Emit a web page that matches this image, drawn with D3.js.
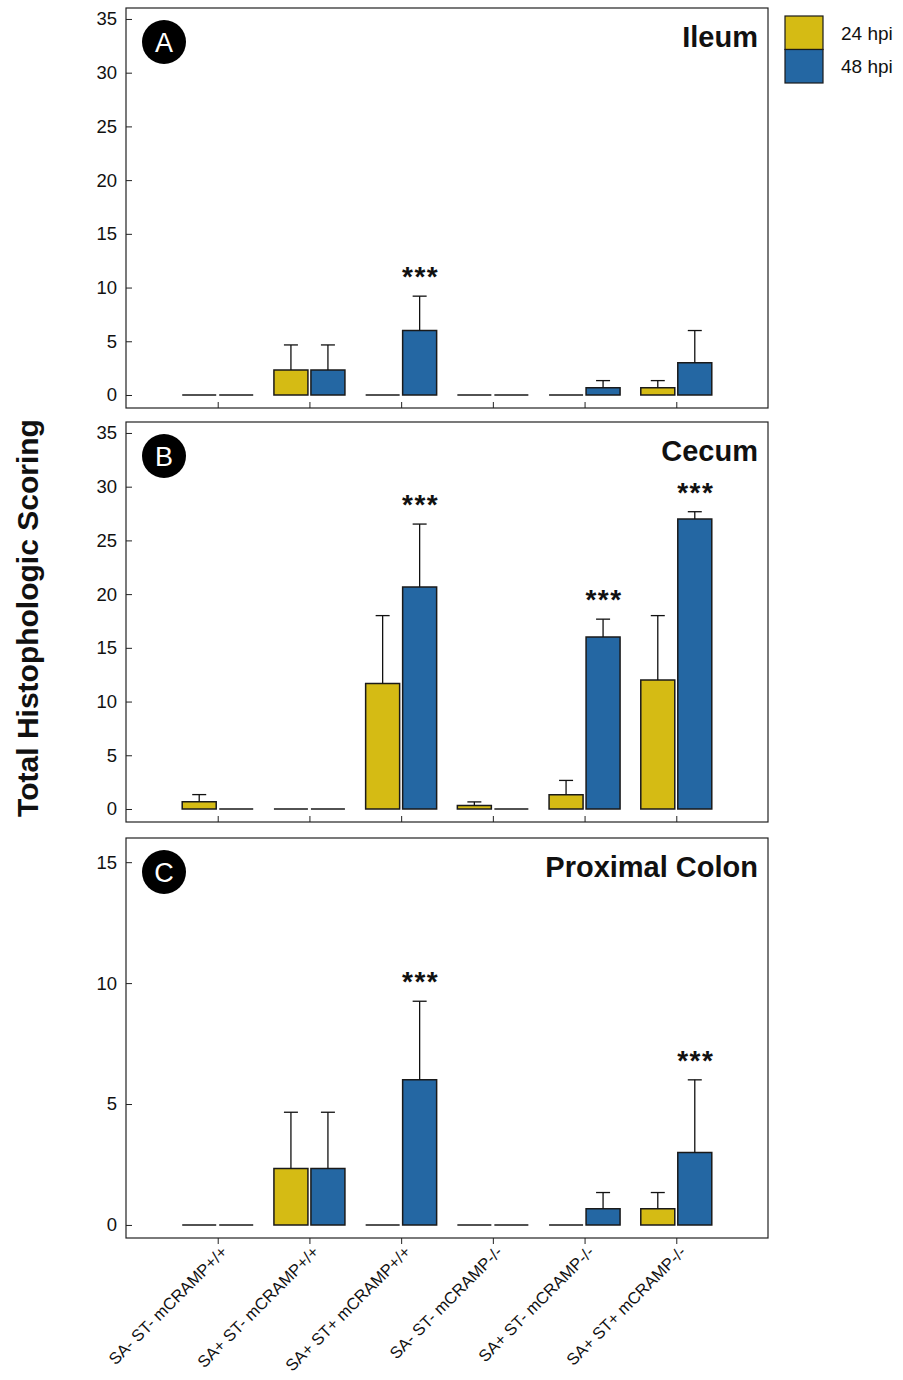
<!DOCTYPE html>
<html>
<head>
<meta charset="utf-8">
<script src="https://cdn.jsdelivr.net/npm/d3@7"></script>
<style>
  body { margin: 0; background: #fff; }
  svg { font-family: "Liberation Sans", Arial, sans-serif; }
</style>
</head>
<body>
<div class="chart"></div>
<script>
// groups on the x axis
const categories = ['SA- ST- mCRAMP+/+', 'SA+ ST- mCRAMP+/+', 'SA+ ST+ mCRAMP+/+',
                    'SA- ST- mCRAMP-/-', 'SA+ ST- mCRAMP-/-', 'SA+ ST+ mCRAMP-/-'];
const seriesNames = ['24 hpi', '48 hpi'];

// Ileum
const ileum24 = [0, 2.33, 0, 0, 0, 0.67];
const ileum24Err = [0, 2.33, 0, 0, 0, 0.67];
const ileum48 = [0, 2.33, 6, 0, 0.67, 3];
const ileum48Err = [0, 2.33, 3.2, 0, 0.67, 3];
const ileumSig = [false, false, true, false, false, false];

// Cecum
const cecum24 = [0.67, 0, 11.67, 0.33, 1.33, 12];
const cecum24Err = [0.67, 0, 6.33, 0.33, 1.33, 6];
const cecum48 = [0, 0, 20.67, 0, 16, 27];
const cecum48Err = [0, 0, 5.85, 0, 1.67, 0.67];
const cecumSig = [false, false, true, false, true, true];

// Proximal colon
const colon24 = [0, 2.33, 0, 0, 0, 0.67];
const colon24Err = [0, 2.33, 0, 0, 0, 0.67];
const colon48 = [0, 2.33, 6, 0, 0.67, 3];
const colon48Err = [0, 2.33, 3.25, 0, 0.67, 3];
const colonSig = [false, false, true, false, false, true];

const ticksAB = [0, 5, 10, 15, 20, 25, 30, 35];
const ticksC = [0, 5, 10, 15];

const colors = ['#d5bb14', '#2467a3'];

const panels = [
  {letter:'A', title:'Ileum', m24:ileum24, e24:ileum24Err, m48:ileum48, e48:ileum48Err, sig:ileumSig,
   domain:[-1.21, 36.02], ticks:ticksAB, top:8, xTicksOut:false},
  {letter:'B', title:'Cecum', m24:cecum24, e24:cecum24Err, m48:cecum48, e48:cecum48Err, sig:cecumSig,
   domain:[-1.21, 36.02], ticks:ticksAB, top:422, xTicksOut:false},
  {letter:'C', title:'Proximal Colon', m24:colon24, e24:colon24Err, m48:colon48, e48:colon48Err, sig:colonSig,
   domain:[-0.54, 16.0], ticks:ticksC, top:838, xTicksOut:true}
];

const svg_width = 903, svg_height = 1380;
const left = 126, plot_width = 642, plot_height = 400;
const barW = 34, barGap = 1.5;

const svg = d3.select('.chart').append('svg')
  .attr('width', svg_width).attr('height', svg_height);

const xScale = d3.scalePoint().domain(categories).range([0, plot_width]).padding(1);

panels.forEach(p => {
  const g = svg.append('g').attr('transform', `translate(${left},${p.top})`);
  const yScale = d3.scaleLinear().domain(p.domain).range([plot_height, 0]);

  // frame
  g.append('rect').attr('width', plot_width).attr('height', plot_height)
    .attr('fill', 'none').attr('stroke', '#222').attr('stroke-width', 1.2);

  // y axis, ticks pointing inward
  const yAxis = d3.axisLeft(yScale).tickValues(p.ticks).tickSizeInner(-6).tickSizeOuter(0).tickPadding(9);
  const yDraw = g.append('g').call(yAxis);
  yDraw.select('.domain').remove();
  yDraw.selectAll('line').attr('stroke', '#222');
  yDraw.selectAll('text').style('font-size', '18.5px').attr('fill', '#111');

  // x axis
  const xAxis = d3.axisBottom(xScale).tickSizeInner(p.xTicksOut ? 6 : -6).tickSizeOuter(0).tickFormat(p.xTicksOut ? null : '');
  const xDraw = g.append('g').attr('transform', `translate(0,${plot_height})`).call(xAxis);
  xDraw.select('.domain').remove();
  xDraw.selectAll('line').attr('stroke', '#222');
  if (p.xTicksOut) {
    xDraw.selectAll('text')
      .style('font-size', '16.5px').attr('fill', '#111')
      .attr('text-anchor', 'end')
      .attr('y', 0).attr('dy', 0)
      .attr('transform', 'translate(10,15) rotate(-45)');
  }

  // bars
  const rows = [];
  categories.forEach((c, i) => {
    rows.push({cat:c, s:0, v:p.m24[i], e:p.e24[i], sig:false});
    rows.push({cat:c, s:1, v:p.m48[i], e:p.e48[i], sig:p.sig[i]});
  });
  const bx = d => xScale(d.cat) + (d.s === 0 ? -barGap - barW : barGap);

  g.selectAll('.bar').data(rows).enter().append('path')
    .attr('class', 'bar')
    .attr('d', d => {
      const x0 = bx(d), y0 = yScale(0), y1 = yScale(d.v);
      return `M${x0},${y0}V${y1}H${x0 + barW}V${y0}Z`;
    })
    .attr('fill', d => colors[d.s])
    .attr('stroke', '#1a1a1a').attr('stroke-width', 1.5);

  // upper error bars
  const errRows = rows.filter(d => d.e > 0);
  const eg = g.selectAll('.err').data(errRows).enter().append('g').attr('class', 'err')
    .attr('stroke', '#111').attr('stroke-width', 1.3);
  eg.append('line')
    .attr('x1', d => bx(d) + barW / 2).attr('x2', d => bx(d) + barW / 2)
    .attr('y1', d => yScale(d.v)).attr('y2', d => yScale(d.v + d.e));
  eg.append('line')
    .attr('x1', d => bx(d) + barW / 2 - 7).attr('x2', d => bx(d) + barW / 2 + 7)
    .attr('y1', d => yScale(d.v + d.e)).attr('y2', d => yScale(d.v + d.e));

  // significance stars
  g.selectAll('.star').data(rows.filter(d => d.sig)).enter().append('text')
    .attr('class', 'star')
    .attr('x', d => bx(d) + barW / 2 + 1)
    .attr('y', d => yScale(d.v + d.e) - 10)
    .attr('text-anchor', 'middle')
    .style('font-size', '28px').style('font-weight', 'bold').style('letter-spacing', '1.5px')
    .attr('fill', '#111')
    .text('***');

  // panel letter
  g.append('circle').attr('cx', 38).attr('cy', 34).attr('r', 22).attr('fill', '#000');
  g.append('text').attr('x', 38).attr('y', 34).attr('dy', '0.36em')
    .attr('text-anchor', 'middle').attr('fill', '#fff')
    .style('font-size', '27px').text(p.letter);

  // panel title
  g.append('text').attr('x', plot_width - 10).attr('y', 39)
    .attr('text-anchor', 'end').attr('fill', '#111')
    .style('font-size', '29px').style('font-weight', 'bold').text(p.title);
});

// legend
const legend = svg.append('g').attr('transform', 'translate(785,16)');
seriesNames.forEach((name, i) => {
  legend.append('rect').attr('x', 0).attr('y', i * 33.5).attr('width', 38).attr('height', 33.5)
    .attr('fill', colors[i]).attr('stroke', '#1a1a1a').attr('stroke-width', 1.2);
  legend.append('text').attr('x', 56).attr('y', i * 33.5 + 17).attr('dy', '0.35em')
    .style('font-size', '19px').attr('fill', '#111').text(name);
});

// y axis title
svg.append('text')
  .attr('transform', 'translate(38,618) rotate(-90)')
  .attr('text-anchor', 'middle').attr('fill', '#111')
  .style('font-size', '30px').style('font-weight', 'bold')
  .text('Total Histophologic Scoring');
</script>
</body>
</html>
